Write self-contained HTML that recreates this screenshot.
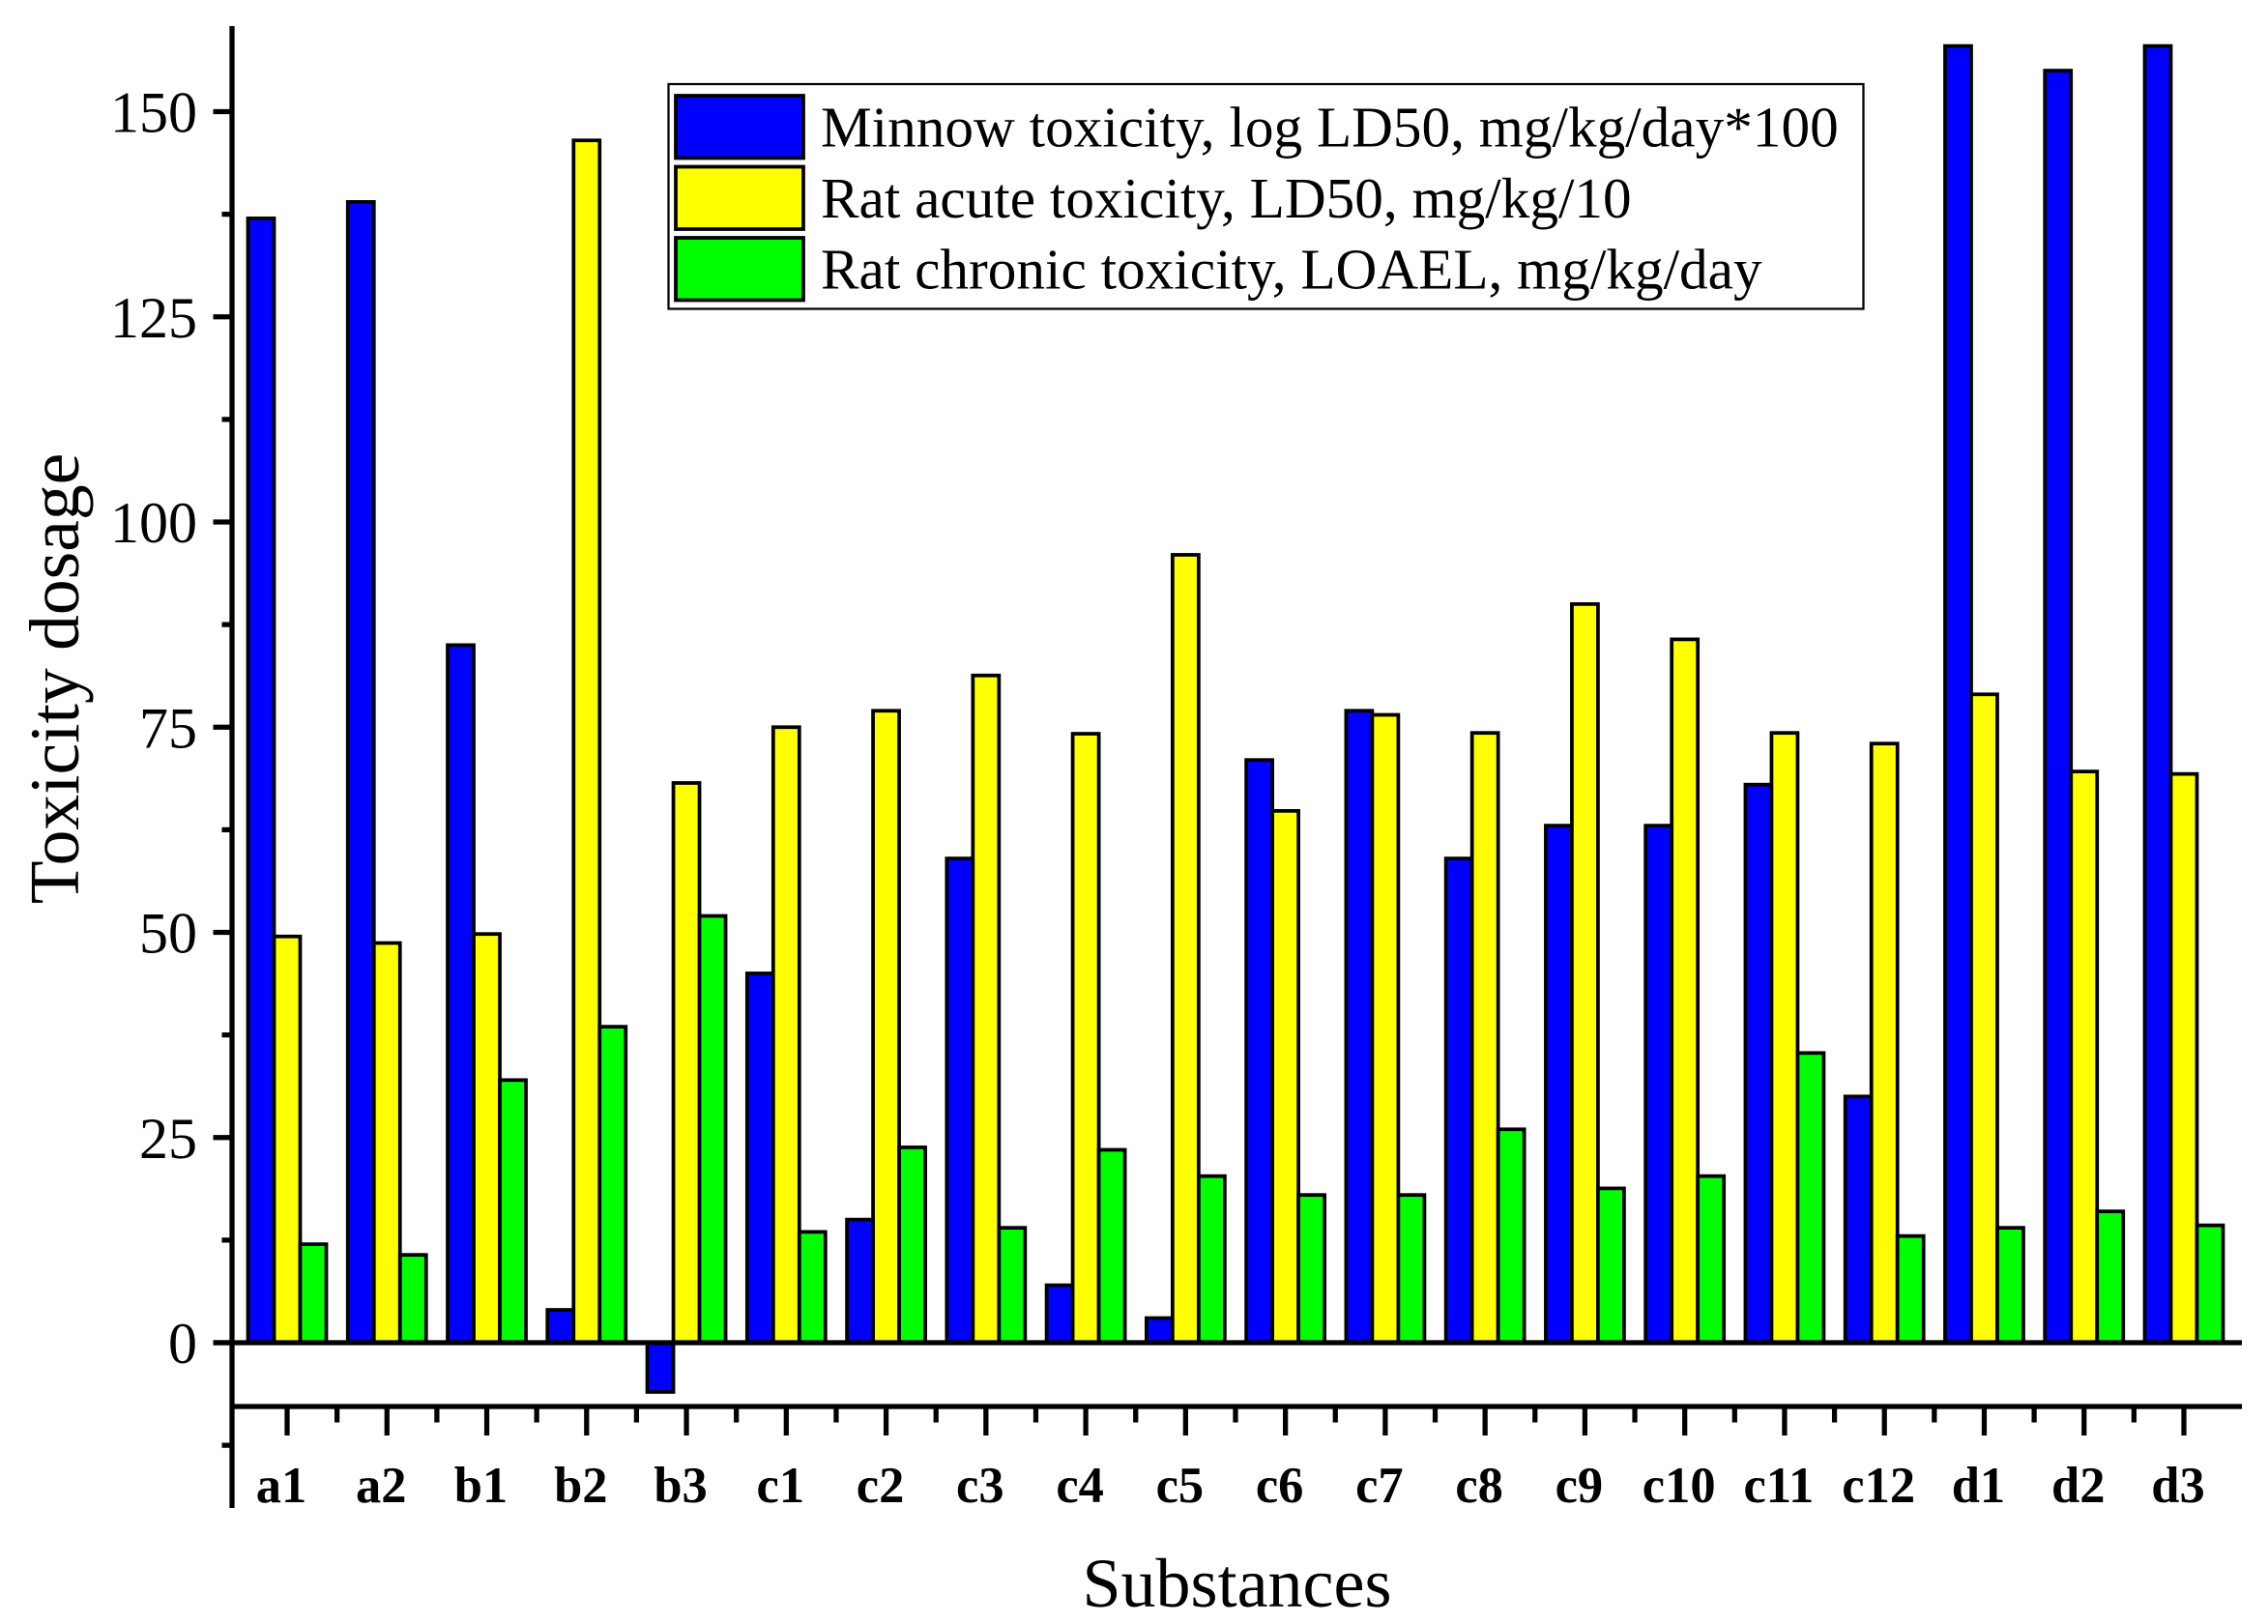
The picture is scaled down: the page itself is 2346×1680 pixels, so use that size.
<!DOCTYPE html>
<html><head><meta charset="utf-8"><style>
html,body{margin:0;padding:0;background:#fff;}
svg{display:block;}
</style></head><body>
<svg id="chart" width="2346" height="1680" viewBox="0 0 1564 1120" preserveAspectRatio="none" xmlns="http://www.w3.org/2000/svg" font-family="'Liberation Serif', serif">
<rect x="0" y="0" width="1564" height="1120" fill="#fff"/>
<g id="bars"></g>
<g id="axes"></g>
<text x="54" y="468" font-size="49" text-anchor="middle" transform="rotate(-90 54 468)">Toxicity dosage</text>
<text x="853" y="1108" font-size="48" text-anchor="middle">Substances</text>
<g>
<rect x="461" y="58" width="824" height="155" fill="#fff" stroke="#000" stroke-width="1.5"/>
<rect x="466" y="66" width="88" height="43" fill="#0000ff" stroke="#000" stroke-width="2.5"/>
<text x="566" y="101" font-size="39.5">Minnow toxicity, log LD50, mg/kg/day*100</text>
<rect x="466" y="115" width="88" height="43" fill="#ffff00" stroke="#000" stroke-width="2.5"/>
<text x="566" y="150" font-size="39.5">Rat acute toxicity, LD50, mg/kg/10</text>
<rect x="466" y="164" width="88" height="43" fill="#00ff00" stroke="#000" stroke-width="2.5"/>
<text x="566" y="199" font-size="39.5">Rat chronic toxicity, LOAEL, mg/kg/day</text>
</g>
</svg>
<script>
const categories = ["a1","a2","b1","b2","b3","c1","c2","c3","c4","c5","c6","c7","c8","c9","c10","c11","c12","d1","d2","d3"];
const minnow = [137,139,85,4,-6,45,15,59,7,3,71,77,59,63,63,68,30,158,155,158];
const ratAcute = [49.5,48.7,49.8,146.5,68.2,75,77,81.3,74.2,96,64.8,76.5,74.3,90,85.7,74.3,73,79,69.6,69.3];
const ratChronic = [12,10.7,32,38.5,52,13.5,23.8,14,23.5,20.3,18,18,26,18.8,20.3,35.3,13,14,16,14.3];
const yTicks = [0,25,50,75,100,125,150];

const NS = "http://www.w3.org/2000/svg";
function y(v){ return 926 - v * (849/150); }
function xc(i){ return 198 + i * (1308/19); }
function mk(tag, attrs, parent){
  const e = document.createElementNS(NS, tag);
  for (const k in attrs) e.setAttribute(k, attrs[k]);
  parent.appendChild(e); return e;
}
const bars = document.getElementById("bars");
const axes = document.getElementById("axes");
const series = [[minnow,"#0000ff",-27,"minnow"],[ratAcute,"#ffff00",-9,"rat-acute"],[ratChronic,"#00ff00",9,"rat-chronic"]];
series.forEach(([vals,color,off,name])=>{
  vals.forEach((v,i)=>{
    const top = Math.min(y(v), y(0)), h = Math.abs(y(v)-y(0));
    const r = mk("rect",{x:xc(i)+off,y:top,width:18,height:h,fill:color,stroke:"#000","stroke-width":2.5},bars);
    
    
  });
});
let l = mk("line",{x1:160,y1:18,x2:160,y2:1040,stroke:"#000","stroke-width":3.5},axes);


l = mk("line",{x1:147,y1:y(0),x2:1546,y2:y(0),stroke:"#000","stroke-width":3.5},axes);


l = mk("line",{x1:160,y1:970,x2:1546,y2:970,stroke:"#000","stroke-width":3.5},axes);


for (let v=-12.5; v<=150; v+=12.5){
  const major = Math.abs(v % 25) < 0.01;
  const t = mk("line",{x1:major?147:153,y1:y(v),x2:160,y2:y(v),stroke:"#000","stroke-width":3.5},axes);
  
  
}
yTicks.forEach(v=>{
  const t = mk("text",{x:136,y:y(v)+14,"font-size":40,"text-anchor":"end"},axes);
  t.textContent = v;
  
  
});
categories.forEach((c,i)=>{
  const t = mk("line",{x1:xc(i),y1:970,x2:xc(i),y2:990,stroke:"#000","stroke-width":3.5},axes);
  
  
  if (i < categories.length-1){
    const m = mk("line",{x1:xc(i+0.5),y1:970,x2:xc(i+0.5),y2:981,stroke:"#000","stroke-width":3.5},axes);
    
    
  }
  const tx = mk("text",{x:xc(i)-4,y:1036,"font-size":35,"font-weight":"bold","text-anchor":"middle"},axes);
  tx.textContent = c;
  
  
});
</script>
</body></html>
